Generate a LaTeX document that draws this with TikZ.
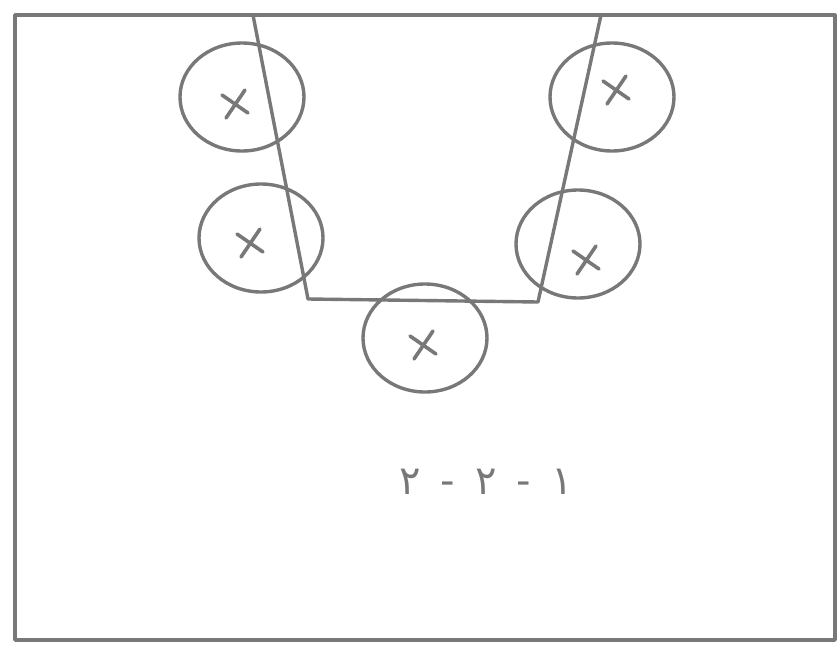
\documentclass[tikz,border=0pt]{standalone}
\usepackage{fontspec}
\newfontfamily\arabicfont[Script=Arabic]{DejaVu Sans}
\TeXXeTstate=1
\usetikzlibrary{shapes.geometric}
\definecolor{ink}{RGB}{120,120,120}
\tikzset{
  ln/.style={draw=ink, line width=3.4pt, line cap=round, line join=round},
  ring/.style={ellipse, draw=ink, line width=3.4pt, minimum width=124pt, minimum height=108pt, inner sep=0pt},
  crs/.style={draw=ink, line width=3.6pt, line cap=round}
}
\begin{document}
\begin{tikzpicture}[x=1pt,y=-1pt]
\useasboundingbox (0,0) rectangle (839,646);
% frame
\coordinate (tl) at (15,15);
\coordinate (tr) at (835,15);
\coordinate (br) at (835,640);
\coordinate (bl) at (15,640);
\draw[ln] (tr) -- (tl) -- (bl) -- (br) -- (tr);
% rings
\node[ring] (c1) at (242,97) {};
\node[ring] (c2) at (261,238) {};
\node[ring] (c3) at (612,97) {};
\node[ring] (c4) at (578,244) {};
\node[ring] (c5) at (425,338) {};
% crosses
\foreach \n/\x/\y in {x1/235/104, x2/250/243, x3/616/90, x4/586/260, x5/423/345}{
  \coordinate (\n) at (\x,\y);
  \draw[crs] ([shift={(-13,-9)}]\n) -- ([shift={(13,9)}]\n);
  \draw[crs] ([shift={(10,-14)}]\n) -- ([shift={(-9,14)}]\n);
}
% channel
\coordinate (a) at (253,15);
\coordinate (b) at (308,299);
\coordinate (c) at (538,302);
\coordinate (d) at (601,15);
\draw[ln] (a) -- (b) -- (c) -- (d);
% label
\node[text=ink, font=\arabicfont\fontsize{40}{46}\selectfont, inner sep=0pt] (lbl) at (486,482)
  {\beginR ١\hspace{20pt}-\hspace{20pt}٢\hspace{20pt}-\hspace{20pt}٢\endR};
\end{tikzpicture}
\end{document}
